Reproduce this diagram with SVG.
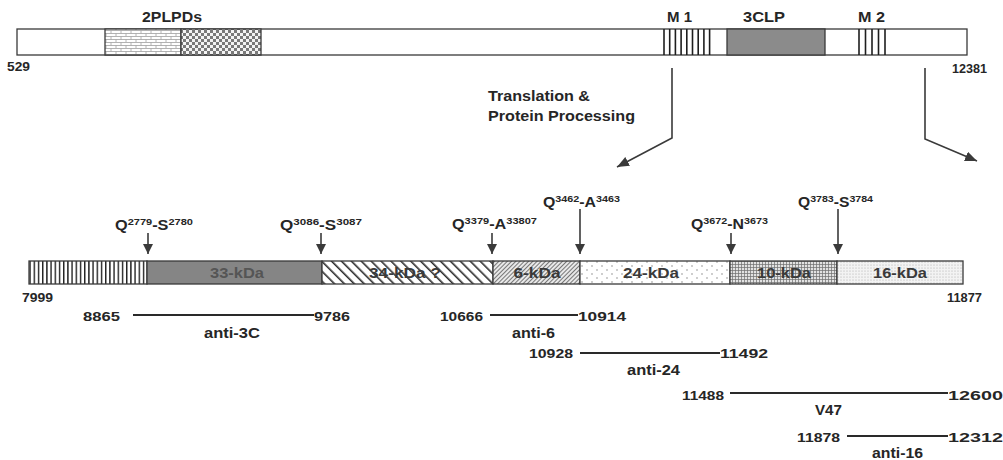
<svg xmlns="http://www.w3.org/2000/svg" width="1003" height="460" viewBox="0 0 1003 460">
<style>
  text { font-family: "Liberation Sans", Arial, sans-serif; font-weight: bold; fill: #262626; }
  .lbl { font-size: 14px; }
  .num { font-size: 13.5px; }
  .seg { font-size: 14px; fill: #3a3a3a; }
  .sup { font-size: 9.5px; }
  .box { stroke: #3a3a3a; stroke-width: 1.3; }
  .conn { stroke: #3a3a3a; stroke-width: 1.6; fill: none; }
  .rng { stroke: #2a2a2a; stroke-width: 2; }
  .stripe { stroke: #1e1e1e; stroke-width: 1.6; }
</style>
<defs>
  <pattern id="brick" patternUnits="userSpaceOnUse" width="10" height="6">
    <rect width="10" height="6" fill="#ffffff"/>
    <path d="M0,0.5H10M0,3.5H10M1,0.5V3.5M6,3.5V6.5" stroke="#a0a0a0" stroke-width="0.8" fill="none"/>
  </pattern>
  <pattern id="checker" patternUnits="userSpaceOnUse" width="6" height="6">
    <rect width="6" height="6" fill="#f4f4f4"/>
    <rect x="0" y="0" width="3" height="3" fill="#7a7a7a"/>
    <rect x="3" y="3" width="3" height="3" fill="#7a7a7a"/>
  </pattern>
  <pattern id="vstripe" patternUnits="userSpaceOnUse" width="4.2" height="10">
    <rect width="4.2" height="10" fill="#ffffff"/>
    <rect x="0" y="0" width="1.4" height="10" fill="#1e1e1e"/>
  </pattern>
  <pattern id="diag34" patternUnits="userSpaceOnUse" width="7" height="7" patternTransform="rotate(-45)">
    <rect width="7" height="7" fill="#ffffff"/>
    <rect x="0" y="0" width="1.6" height="7" fill="#2e2e2e"/>
  </pattern>
  <pattern id="diag6" patternUnits="userSpaceOnUse" width="3" height="3" patternTransform="rotate(45)">
    <rect width="3" height="3" fill="#e8e8e8"/>
    <rect x="0" y="0" width="0.9" height="3" fill="#6a6a6a"/>
  </pattern>
  <pattern id="dots24" patternUnits="userSpaceOnUse" width="10" height="8">
    <rect width="10" height="8" fill="#ffffff"/>
    <circle cx="2" cy="2" r="0.7" fill="#777"/>
    <circle cx="7" cy="6" r="0.7" fill="#777"/>
  </pattern>
  <pattern id="grid10" patternUnits="userSpaceOnUse" width="3" height="3">
    <rect width="3" height="3" fill="#e2e2e2"/>
    <path d="M0,0.4H3M0.4,0V3" stroke="#6e6e6e" stroke-width="0.8"/>
  </pattern>
  <pattern id="stip16" patternUnits="userSpaceOnUse" width="3" height="3">
    <rect width="3" height="3" fill="#f3f3f3"/>
    <circle cx="1" cy="1" r="0.55" fill="#aaa"/>
  </pattern>
  <marker id="ah" markerUnits="userSpaceOnUse" markerWidth="10" markerHeight="10" refX="10" refY="5" orient="auto" viewBox="0 0 10 10">
    <path d="M0,0L10,5L0,10z" fill="#3a3a3a"/>
  </marker>
  <marker id="ahb" markerUnits="userSpaceOnUse" markerWidth="12" markerHeight="10" refX="12" refY="5" orient="auto" viewBox="0 0 12 10">
    <path d="M0,0L12,5L0,10z" fill="#3a3a3a"/>
  </marker>
</defs>

<g id="polyprotein-top">
  <rect class="box" x="17" y="29" width="950" height="26" fill="#ffffff"/>
  <rect class="box" x="105" y="29" width="76" height="26" fill="url(#brick)"/>
  <rect class="box" x="181" y="29" width="80" height="26" fill="url(#checker)"/>
  <g id="M1-block">
    <line class="stripe" x1="664" y1="29" x2="664" y2="55"/>
    <line class="stripe" x1="669.7" y1="29" x2="669.7" y2="55"/>
    <line class="stripe" x1="675.4" y1="29" x2="675.4" y2="55"/>
    <line class="stripe" x1="681.1" y1="29" x2="681.1" y2="55"/>
    <line class="stripe" x1="686.8" y1="29" x2="686.8" y2="55"/>
    <line class="stripe" x1="692.5" y1="29" x2="692.5" y2="55"/>
    <line class="stripe" x1="698.2" y1="29" x2="698.2" y2="55"/>
    <line class="stripe" x1="703.9" y1="29" x2="703.9" y2="55"/>
    <line class="stripe" x1="709.6" y1="29" x2="709.6" y2="55"/>
  </g>
  <rect class="box" x="727" y="29" width="98" height="26" fill="#8b8b8b"/>
  <g id="M2-block">
    <line class="stripe" x1="859" y1="29" x2="859" y2="55"/>
    <line class="stripe" x1="865.5" y1="29" x2="865.5" y2="55"/>
    <line class="stripe" x1="872" y1="29" x2="872" y2="55"/>
    <line class="stripe" x1="878.5" y1="29" x2="878.5" y2="55"/>
    <line class="stripe" x1="885" y1="29" x2="885" y2="55"/>
  </g>
  <text class="lbl" x="142" y="22" textLength="60" lengthAdjust="spacingAndGlyphs">2PLPDs</text>
  <text class="lbl" x="667" y="22" textLength="25" lengthAdjust="spacingAndGlyphs">M 1</text>
  <text class="lbl" x="743" y="22" textLength="42" lengthAdjust="spacingAndGlyphs">3CLP</text>
  <text class="lbl" x="858" y="22" textLength="27" lengthAdjust="spacingAndGlyphs">M 2</text>
  <text class="num" x="7" y="71" textLength="23" lengthAdjust="spacingAndGlyphs">529</text>
  <text class="num" x="952" y="73" textLength="35" lengthAdjust="spacingAndGlyphs">12381</text>
</g>

<g id="processing-label">
  <text class="lbl" x="488" y="101" textLength="102" lengthAdjust="spacingAndGlyphs">Translation &amp;</text>
  <text class="lbl" x="488" y="121" textLength="147" lengthAdjust="spacingAndGlyphs">Protein Processing</text>
</g>

<g id="polyprotein-bottom">
  <rect class="box" x="29" y="261" width="118" height="23" fill="url(#vstripe)"/>
  <rect class="box" x="147" y="261" width="175" height="23" fill="#858585"/>
  <rect class="box" x="322" y="261" width="171" height="23" fill="url(#diag34)"/>
  <rect class="box" x="493" y="261" width="87" height="23" fill="url(#diag6)"/>
  <rect class="box" x="580" y="261" width="150" height="23" fill="url(#dots24)"/>
  <rect class="box" x="730" y="261" width="107" height="23" fill="url(#grid10)"/>
  <rect class="box" x="837" y="261" width="126" height="23" fill="url(#stip16)"/>
  <text class="seg" x="237" y="278" text-anchor="middle" textLength="54" lengthAdjust="spacingAndGlyphs" style="fill:#555">33-kDa</text>
  <text class="seg" x="405" y="278" text-anchor="middle" textLength="72" lengthAdjust="spacingAndGlyphs">34-kDa ?</text>
  <text class="seg" x="537" y="278" text-anchor="middle" textLength="47" lengthAdjust="spacingAndGlyphs">6-kDa</text>
  <text class="seg" x="651" y="278" text-anchor="middle" textLength="56" lengthAdjust="spacingAndGlyphs">24-kDa</text>
  <text class="seg" x="784" y="278" text-anchor="middle" textLength="54" lengthAdjust="spacingAndGlyphs">10-kDa</text>
  <text class="seg" x="900" y="278" text-anchor="middle" textLength="54" lengthAdjust="spacingAndGlyphs">16-kDa</text>
  <text class="num" x="22" y="302" textLength="31" lengthAdjust="spacingAndGlyphs">7999</text>
  <text class="num" x="947" y="302" textLength="35" lengthAdjust="spacingAndGlyphs">11877</text>
</g>

<g id="cleavage-sites">
  <text class="lbl" x="115" y="230" textLength="78" lengthAdjust="spacingAndGlyphs">Q<tspan class="sup" dy="-5">2779</tspan><tspan dy="5">-S</tspan><tspan class="sup" dy="-5">2780</tspan></text>
  <text class="lbl" x="280" y="230" textLength="82" lengthAdjust="spacingAndGlyphs">Q<tspan class="sup" dy="-5">3086</tspan><tspan dy="5">-S</tspan><tspan class="sup" dy="-5">3087</tspan></text>
  <text class="lbl" x="452" y="229" textLength="85" lengthAdjust="spacingAndGlyphs">Q<tspan class="sup" dy="-5">3379</tspan><tspan dy="5">-A</tspan><tspan class="sup" dy="-5">33807</tspan></text>
  <text class="lbl" x="543" y="207" textLength="77" lengthAdjust="spacingAndGlyphs">Q<tspan class="sup" dy="-5">3462</tspan><tspan dy="5">-A</tspan><tspan class="sup" dy="-5">3463</tspan></text>
  <text class="lbl" x="691" y="229" textLength="77" lengthAdjust="spacingAndGlyphs">Q<tspan class="sup" dy="-5">3672</tspan><tspan dy="5">-N</tspan><tspan class="sup" dy="-5">3673</tspan></text>
  <text class="lbl" x="798" y="207" textLength="75" lengthAdjust="spacingAndGlyphs">Q<tspan class="sup" dy="-5">3783</tspan><tspan dy="5">-S</tspan><tspan class="sup" dy="-5">3784</tspan></text>
</g>

<g id="antibodies">
  <text class="num" x="83" y="321" textLength="37" lengthAdjust="spacingAndGlyphs">8865</text>
  <text class="num" x="314" y="321" textLength="36" lengthAdjust="spacingAndGlyphs">9786</text>
  <text class="lbl" x="204" y="338" textLength="56" lengthAdjust="spacingAndGlyphs">anti-3C</text>
  <text class="num" x="440" y="321" textLength="43" lengthAdjust="spacingAndGlyphs">10666</text>
  <text class="num" x="578" y="321" textLength="48" lengthAdjust="spacingAndGlyphs">10914</text>
  <text class="lbl" x="512" y="338" textLength="43" lengthAdjust="spacingAndGlyphs">anti-6</text>
  <text class="num" x="529" y="358" textLength="44" lengthAdjust="spacingAndGlyphs">10928</text>
  <text class="num" x="720" y="358" textLength="48" lengthAdjust="spacingAndGlyphs">11492</text>
  <text class="lbl" x="627" y="375" textLength="53" lengthAdjust="spacingAndGlyphs">anti-24</text>
  <text class="num" x="682" y="400" textLength="42" lengthAdjust="spacingAndGlyphs">11488</text>
  <text class="num" x="948" y="400" textLength="55" lengthAdjust="spacingAndGlyphs">12600</text>
  <text class="lbl" x="815" y="415" textLength="27" lengthAdjust="spacingAndGlyphs">V47</text>
  <text class="num" x="797" y="442" textLength="43" lengthAdjust="spacingAndGlyphs">11878</text>
  <text class="num" x="948" y="442" textLength="55" lengthAdjust="spacingAndGlyphs">12312</text>
  <text class="lbl" x="872" y="458" textLength="51" lengthAdjust="spacingAndGlyphs">anti-16</text>
</g>

<g id="connectors">
  <polyline class="conn" points="672,68 672,138 617,167" marker-end="url(#ahb)"/>
  <polyline class="conn" points="925,68 925,139 977,161" marker-end="url(#ahb)"/>
  <line class="conn" x1="148" y1="233" x2="148" y2="254" marker-end="url(#ah)"/>
  <line class="conn" x1="321" y1="233" x2="321" y2="254" marker-end="url(#ah)"/>
  <line class="conn" x1="492" y1="233" x2="492" y2="254" marker-end="url(#ah)"/>
  <line class="conn" x1="580" y1="209" x2="580" y2="254" marker-end="url(#ah)"/>
  <line class="conn" x1="731" y1="233" x2="731" y2="254" marker-end="url(#ah)"/>
  <line class="conn" x1="838" y1="209" x2="838" y2="254" marker-end="url(#ah)"/>
  <line class="rng" x1="133" y1="315" x2="314" y2="315"/>
  <line class="rng" x1="490" y1="315" x2="578" y2="315"/>
  <line class="rng" x1="580" y1="353" x2="720" y2="353"/>
  <line class="rng" x1="730" y1="393" x2="948" y2="393"/>
  <line class="rng" x1="847" y1="436" x2="948" y2="436"/>
</g>
</svg>
